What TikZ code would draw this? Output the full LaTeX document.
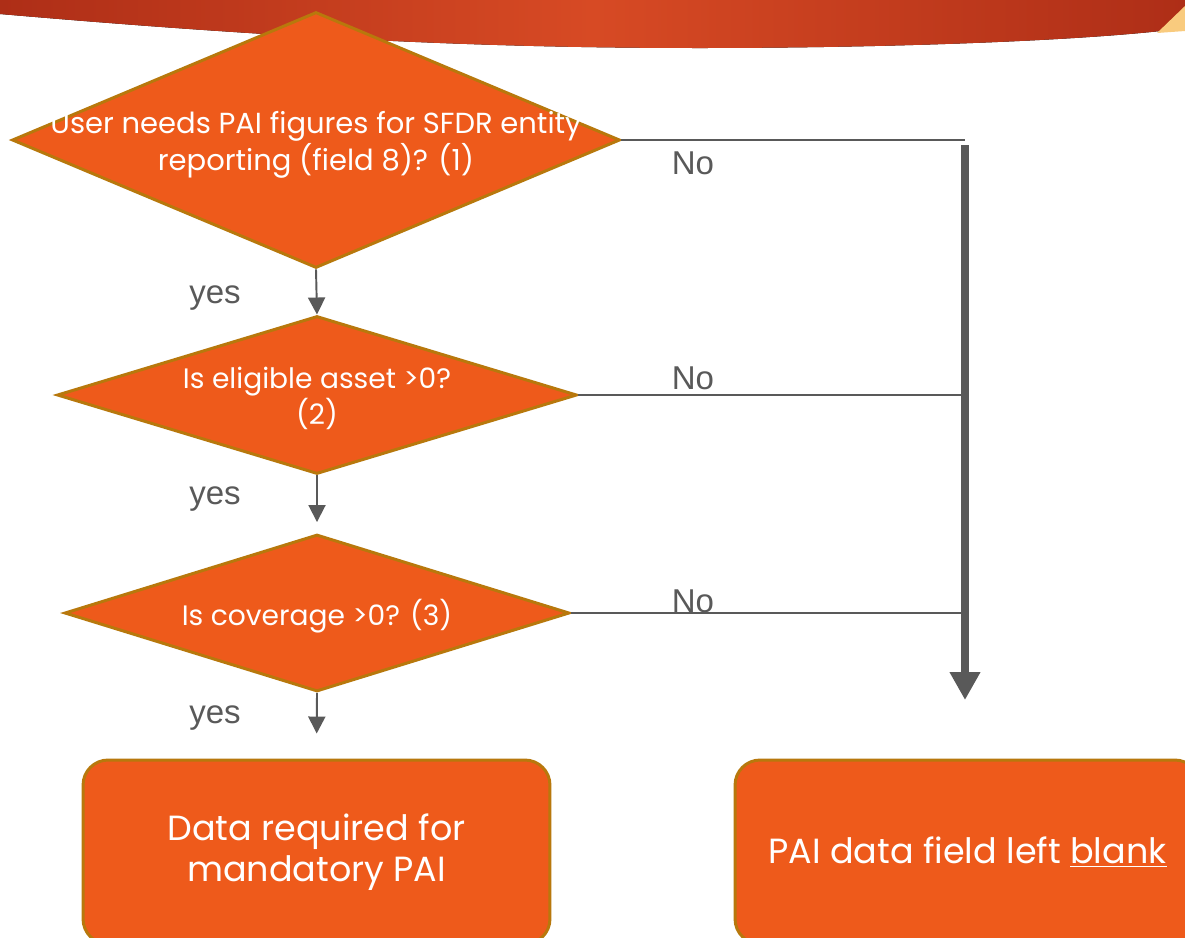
\documentclass[tikz,border=0pt]{standalone}
\usepackage{fontspec}
\setmainfont{Poppins}
\newfontfamily\labelfont{Liberation Sans}
\usetikzlibrary{shapes.geometric,arrows.meta,calc}

\definecolor{flowfill}{HTML}{EE5A1B}
\definecolor{flowedge}{HTML}{B8780C}
\definecolor{linegray}{HTML}{595959}
\definecolor{banddark}{HTML}{AE2E17}
\definecolor{bandmid}{HTML}{D74A24}
\definecolor{bandpeach}{HTML}{F9CB7E}

\tikzset{
  decision/.style={draw=flowedge,line width=1.7pt,fill=flowfill,diamond,inner sep=0pt,aspect=2},
  qtext/.style={text=white,align=center,font=\fontsize{16}{17.6}\selectfont},
  outcome/.style={draw=flowedge,line width=1.7pt,fill=flowfill,rectangle,rounded corners=0.5cm,text=white,align=center,font=\fontsize{19.9}{23.5}\selectfont},
  answer/.style={text=linegray,font=\labelfont\fontsize{18.8}{22}\selectfont},
  noline/.style={linegray,line width=1.6pt},
  yesarrow/.style={linegray,line width=1.1pt,-{Triangle[width=0.34cm,length=0.34cm]}}
}

\begin{document}
\begin{tikzpicture}[x=0.02cm,y=-0.02cm]
\useasboundingbox (0,0) rectangle (1185,937);
\clip (0,0) rectangle (1185,937);
\fill[white] (0,0) rectangle (1185,937);
% header band
\fill[left color=banddark,right color=banddark,middle color=bandmid] (0,0) -- (0,14) .. controls (300,40) and (500,48) .. (700,48) .. controls (900,48) and (1100,40) .. (1185,28) -- (1185,0) -- cycle;
\fill[bandpeach] (1185,6) -- (1157,33) -- (1185,31) -- cycle;

% questions
\node[decision,minimum width=12.16cm,minimum height=5.12cm,label={[qtext,font=\fontsize{16.5}{16.8}\selectfont,yshift=-0.1cm]center:User needs PAI figures for SFDR entity\\reporting (field 8)? (1)}] (q1) at (316,140) {};
\node[decision,minimum width=10.4cm,minimum height=3.16cm,label={[qtext,yshift=-0.07cm]center:Is eligible asset >0?\\(2)}] (q2) at (317,395) {};
\node[decision,minimum width=10.1cm,minimum height=3.14cm,label={[qtext,yshift=-0.07cm]center:Is coverage >0? (3)}] (q3) at (317,613) {};

% outcomes
\node[outcome,minimum width=9.34cm,minimum height=3.68cm] (req) at (316.5,852) {Data required for\\mandatory PAI};
\node[outcome,minimum width=9.3cm,minimum height=3.68cm] (blank) at (967.5,852) {PAI data field left \underline{blank}};

% no branch
\coordinate (busT) at (965,145);
\coordinate (busB) at (965,700);
\draw[noline] (q1.east) -- (q1.east -| busT);
\draw[noline] (q2.east) -- (q2.east -| busT);
\draw[noline] (q3.east) -- (q3.east -| busT);
\draw[linegray,line width=5pt,-{Triangle[width=0.58cm,length=0.56cm]}] (busT) -- (busB);
\node[answer] (no1) at (693,163) {No};
\node[answer] (no2) at (693,378) {No};
\node[answer] (no3) at (693,601) {No};

% yes branch
\draw[yesarrow] (q1.south) -- (q2.north);
\draw[yesarrow,shorten >=0.22cm] (q2.south) -- (q3.north);
\draw[yesarrow,shorten >=0.5cm] (q3.south) -- (req.north);
\node[answer] (yes1) at (215,298) {yes};
\node[answer] (yes2) at (215,499) {yes};
\node[answer] (yes3) at (215,718) {yes};
\end{tikzpicture}
\end{document}
